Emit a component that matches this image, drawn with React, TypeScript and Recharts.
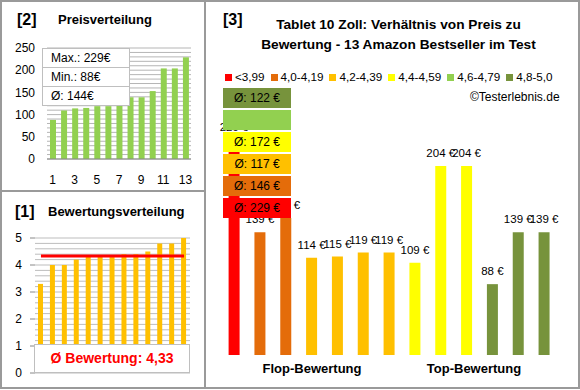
import React from 'react';
import { BarChart, Bar, XAxis, YAxis, Cell, LabelList, ReferenceLine, CartesianGrid } from 'recharts';

// products in the order of panel [3] (sorted by rating)
const productIds = [1, 2, 3, 4, 5, 6, 7, 8, 9, 10, 11, 12, 13];
const ratings = [3.3, 4.0, 4.0, 4.2, 4.3, 4.3, 4.3, 4.4, 4.4, 4.5, 4.8, 4.8, 5.0];
const prices = [229, 139, 153, 114, 115, 119, 119, 109, 204, 204, 88, 139, 139];

const bandLabels = ['<3,99', '4,0-4,19', '4,2-4,39', '4,4-4,59', '4,6-4,79', '4,8-5,0'];
const bandLimits = [0, 4.0, 4.2, 4.4, 4.6, 4.8];
const bandColors = ['#FF0000', '#E46C0A', '#FFC000', '#FFFF00', '#92D050', '#77933C'];

const priceTicks = [0, 50, 100, 150, 200, 250];
const ratingTicks = [0, 1, 2, 3, 4, 5];

const FONT = '"Liberation Sans", Arial, sans-serif';

const bandOf = (r: number) => {
	let b = 0;
	bandLimits.forEach((lim, i) => {
		if (r >= lim) b = i;
	});
	return b;
};

const productData = productIds.map((id, i) => ({
	id,
	price: prices[i],
	rating: ratings[i],
	band: bandOf(ratings[i]),
}));

const sortedPriceData = [...prices]
	.sort((a, b) => a - b)
	.map((price, i) => ({ rank: i + 1, price }));

const maxPrice = Math.max(...prices);
const minPrice = Math.min(...prices);
const avgPrice = Math.round(prices.reduce((s, v) => s + v, 0) / prices.length);
const avgRating = ratings.reduce((s, v) => s + v, 0) / ratings.length;

const bandAverages = bandLabels.map((_, b) => {
	const ps = productData.filter((d) => d.band === b).map((d) => d.price);
	return ps.length ? Math.round(ps.reduce((s, v) => s + v, 0) / ps.length) : null;
});

// minor gridline positions (axis values)
const priceGrid = Array.from({ length: 26 }, (_, i) => i * 10);
const ratingGrid = Array.from({ length: 26 }, (_, i) => Math.round(i * 2) / 10);

// map grid values through the y axis scale
const gridFrom = (values: number[]) => (props: any) => {
	try {
		const s = props?.yAxis?.scale;
		if (typeof s === 'function') return values.map((v) => s(v));
		if (s && typeof s.map === 'function') return values.map((v) => s.map(v));
		if (s && typeof s.scale === 'function') return values.map((v) => s.scale(v));
	} catch (e) {
		// ignore
	}
	return [];
};

const border = '2px solid #9a9a9a';

const abs = (left: number, top: number, extra: React.CSSProperties = {}): React.CSSProperties => ({
	position: 'absolute',
	left,
	top,
	...extra,
});

const PriceLabel = (props: any) => {
	const { x, y, width, value } = props;
	return (
		<text x={x + width / 2} y={y - 9} textAnchor="middle" fontSize={11.5} fontFamily={FONT} fill="#000">
			{`${value} €`}
		</text>
	);
};

export default function App() {
	return (
		<div
			style={{
				position: 'absolute',
				left: 0,
				top: 0,
				width: 580,
				height: 390,
				background: '#fff',
				fontFamily: FONT,
				color: '#000',
				overflow: 'hidden',
			}}
		>
			{/* panel frames */}
			<div style={abs(0, 0, { width: 206, height: 192, border, boxSizing: 'border-box' })} />
			<div style={abs(0, 190, { width: 206, height: 199, border, boxSizing: 'border-box' })} />
			<div style={abs(204, 0, { width: 376, height: 389, border, boxSizing: 'border-box' })} />

			{/* [2] Preisverteilung */}
			<div style={abs(0, 0)}>
				<BarChart width={205} height={191} data={sortedPriceData} margin={{ top: 48, right: 14, bottom: 0, left: 0 }}>
					<CartesianGrid
						vertical={false}
						stroke="#b5b5b5"
						horizontalCoordinatesGenerator={gridFrom(priceGrid)}
					/>
					<XAxis
						dataKey="rank"
						interval={1}
						tickLine={false}
						axisLine={{ stroke: '#888' }}
						tickSize={0}
						tickMargin={16}
						height={32}
						tick={{ fontSize: 12, fill: '#000', fontFamily: FONT }}
					/>
					<YAxis
						width={47}
						domain={[0, 250]}
						ticks={priceTicks}
						axisLine={false}
						tickLine={false}
						tickSize={0}
						tickMargin={12}
						tick={{ fontSize: 12, fill: '#000', fontFamily: FONT }}
					/>
					<Bar dataKey="price" fill="#92D050" barSize={6} isAnimationActive={false} />
				</BarChart>
			</div>
			<div style={abs(17, 10, { fontSize: 16, fontWeight: 'bold', lineHeight: '20px' })}>[2]</div>
			<div style={abs(58, 10, { fontSize: 13, fontWeight: 'bold', lineHeight: '20px' })}>Preisverteilung</div>
			<div
				style={abs(42, 48, {
					width: 88,
					background: '#fff',
					border: '1px solid #bfbfbf',
					boxSizing: 'border-box',
					fontSize: 12,
				})}
			>
				{[`Max.: ${maxPrice}€`, `Min.: ${minPrice}€`, `Ø: ${avgPrice}€`].map((t, i) => (
					<div
						key={i}
						style={{
							height: 18,
							lineHeight: '18px',
							paddingLeft: 8,
							borderTop: i ? '1px solid #bfbfbf' : 'none',
						}}
					>
						{t}
					</div>
				))}
			</div>

			{/* [1] Bewertungsverteilung */}
			<div style={abs(0, 191)}>
				<BarChart width={205} height={197} data={productData} margin={{ top: 47, right: 15, bottom: 15, left: 0 }}>
					<CartesianGrid
						vertical={false}
						stroke="#bdbdbd"
						horizontalCoordinatesGenerator={gridFrom(ratingGrid)}
					/>
					<XAxis dataKey="id" hide />
					<YAxis
						width={35}
						domain={[0, 5]}
						ticks={ratingTicks}
						axisLine={false}
						tickLine={{ stroke: '#888' }}
						tickSize={5}
						tickMargin={8}
						tick={{ fontSize: 12, fill: '#000', fontFamily: FONT }}
					/>
					<Bar dataKey="rating" fill="#FFC000" barSize={5} isAnimationActive={false} />
					<ReferenceLine
						segment={[
							{ x: productIds[0], y: avgRating },
							{ x: productIds[productIds.length - 1], y: avgRating },
						]}
						stroke="#FF0000"
						strokeWidth={3}
					/>
				</BarChart>
			</div>
			<div style={abs(15, 202, { fontSize: 16, fontWeight: 'bold', lineHeight: '20px' })}>[1]</div>
			<div style={abs(48, 202, { fontSize: 13, fontWeight: 'bold', lineHeight: '20px' })}>Bewertungsverteilung</div>
			<div
				style={abs(34, 344, {
					width: 156,
					height: 29,
					background: '#fff',
					border: '1px solid #bfbfbf',
					boxSizing: 'border-box',
					color: '#FF0000',
					fontSize: 14,
					fontWeight: 'bold',
					lineHeight: '27px',
					textAlign: 'center',
				})}
			>
				Ø Bewertung: {avgRating.toFixed(2).replace('.', ',')}
			</div>

			{/* [3] Preis zu Bewertung */}
			<div style={abs(205, 0)}>
				<BarChart width={375} height={390} data={productData} margin={{ top: 119, right: 22.6, bottom: 35, left: 16.6 }}>
					<XAxis dataKey="id" hide />
					<YAxis hide domain={[18.5, 250]} allowDataOverflow />
					<Bar dataKey="price" barSize={11} isAnimationActive={false}>
						{productData.map((d) => (
							<Cell key={d.id} fill={bandColors[d.band]} />
						))}
						<LabelList dataKey="price" content={PriceLabel} />
					</Bar>
				</BarChart>
			</div>
			<div style={abs(223, 10, { fontSize: 16, fontWeight: 'bold', lineHeight: '20px' })}>[3]</div>
			<div
				style={abs(211, 15, {
					width: 375,
					textAlign: 'center',
					fontSize: 13.7,
					fontWeight: 'bold',
					lineHeight: '20px',
				})}
			>
				Tablet 10 Zoll: Verhältnis von Preis zu
				<br />
				Bewertung - 13 Amazon Bestseller im Test
			</div>
			<div style={abs(225, 69, { display: 'flex', gap: 6, fontSize: 11.7, lineHeight: '16px', whiteSpace: 'nowrap' })}>
				{bandLabels.map((l, i) => (
					<div key={l} style={{ display: 'flex', alignItems: 'center', gap: 3 }}>
						<span style={{ width: 7, height: 7, background: bandColors[i], display: 'inline-block' }} />
						<span>{l}</span>
					</div>
				))}
			</div>
			<div style={abs(470, 89, { fontSize: 12, lineHeight: '16px' })}>©Testerlebnis.de</div>
			{bandColors.map((c, i) => (
				<div
					key={c}
					style={abs(223, 198 - i * 22, {
						width: 68,
						height: 20,
						background: c,
						fontSize: 12,
						lineHeight: '20px',
						textAlign: 'center',
					})}
				>
					{bandAverages[i] !== null ? `Ø: ${bandAverages[i]} €` : ''}
				</div>
			))}
			<div style={abs(212, 360, { width: 200, textAlign: 'center', fontSize: 13, fontWeight: 'bold', lineHeight: '18px' })}>
				Flop-Bewertung
			</div>
			<div style={abs(374, 360, { width: 200, textAlign: 'center', fontSize: 13, fontWeight: 'bold', lineHeight: '18px' })}>
				Top-Bewertung
			</div>
		</div>
	);
}
